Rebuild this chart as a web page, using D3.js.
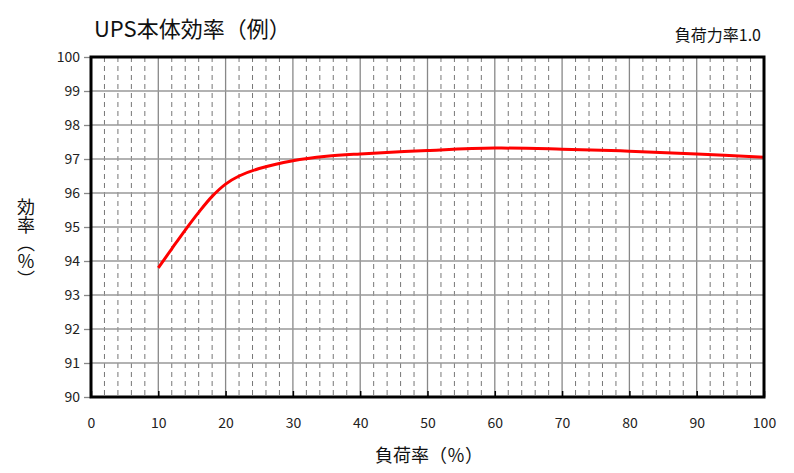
<!DOCTYPE html>
<html><head><meta charset="utf-8">
<script src="https://cdn.jsdelivr.net/npm/d3@7"></script>
<style>body{margin:0;background:#fff}svg{display:block}text{font-family:"Noto Sans CJK JP","Noto Sans",sans-serif}</style>
</head><body>
<svg id="c" width="794" height="473"></svg>
<script>
const loadPct = [10, 12, 14, 16, 18, 20, 22, 25, 30, 35, 40, 50, 60, 70, 80, 90, 100];
const efficiency = [93.8, 94.36, 94.91, 95.43, 95.9, 96.26, 96.5, 96.72, 96.95, 97.08, 97.15, 97.25, 97.32, 97.29, 97.23, 97.15, 97.05];
const xTicks = [0, 10, 20, 30, 40, 50, 60, 70, 80, 90, 100];
const yTicks = [90, 91, 92, 93, 94, 95, 96, 97, 98, 99, 100];

const svg = d3.select("#c");
const L = 91, R = 764, T = 57, B = 397;
const x = d3.scaleLinear().domain([0, 100]).range([L, R]);
const y = d3.scaleLinear().domain([90, 100]).range([B, T]);

// minor dashed verticals
const minor = d3.range(2, 100, 2).filter(v => v % 10 !== 0);
svg.append("g").selectAll("line").data(minor).join("line")
  .attr("x1", d => x(d)).attr("x2", d => x(d)).attr("y1", T).attr("y2", B)
  .attr("stroke", "#777").attr("stroke-width", 1).attr("stroke-dasharray", "5,4");
// major verticals
svg.append("g").selectAll("line").data(xTicks.slice(1, -1)).join("line")
  .attr("x1", d => x(d)).attr("x2", d => x(d)).attr("y1", T).attr("y2", B)
  .attr("stroke", "#888").attr("stroke-width", 1.3);
// horizontals
svg.append("g").selectAll("line").data(yTicks.slice(1, -1)).join("line")
  .attr("x1", L).attr("x2", R).attr("y1", d => y(d)).attr("y2", d => y(d))
  .attr("stroke", "#999").attr("stroke-width", 1.3);

// y axis ticks & labels
const yAxis = d3.axisLeft(y).tickValues(yTicks).tickSize(7).tickPadding(4).tickFormat(d3.format("d"));
const gy = svg.append("g").attr("transform", `translate(${L},0)`).call(yAxis);
gy.select(".domain").remove();
gy.selectAll(".tick line").attr("stroke", "#888").attr("stroke-width", 1.3);
gy.selectAll("text").attr("font-size", 14).attr("fill", "#222").attr("font-family", '"Noto Sans CJK JP",sans-serif');

// x axis labels (inside ticks)
const xAxis = d3.axisBottom(x).tickValues(xTicks).tickSize(-6).tickPadding(21).tickFormat(d3.format("d"));
const gx = svg.append("g").attr("transform", `translate(0,${B})`).call(xAxis);
gx.select(".domain").remove();
gx.selectAll(".tick line").attr("stroke", "#000").attr("stroke-width", 1.5);
gx.selectAll("text").attr("font-size", 14).attr("fill", "#222").attr("font-family", '"Noto Sans CJK JP",sans-serif');

// curve
const line = d3.line().x((d, i) => x(loadPct[i])).y(d => y(d)).curve(d3.curveCatmullRom.alpha(0.5));
svg.append("path").datum(efficiency).attr("d", line)
  .attr("fill", "none").attr("stroke", "#ff0000").attr("stroke-width", 3);

// frame
svg.append("rect").attr("x", L).attr("y", T).attr("width", R - L).attr("height", B - T)
  .attr("fill", "none").attr("stroke", "#000").attr("stroke-width", 3);

// titles
svg.append("text").attr("x", 94).attr("y", 37).attr("font-size", 22).attr("fill", "#111").text("UPS本体効率（例）");
svg.append("text").attr("x", 761).attr("y", 41).attr("text-anchor", "end").attr("font-size", 16).attr("fill", "#111").text("負荷力率1.0");
svg.append("text").attr("x", 429).attr("y", 462).attr("text-anchor", "middle").attr("font-size", 18).attr("fill", "#111").text("負荷率（％）");

svg.append("text").attr("x", 26).attr("y", 198)
  .attr("writing-mode", "vertical-rl").style("writing-mode", "vertical-rl")
  .attr("font-size", 18).attr("fill", "#111").text("効率（％）");
</script>
</body></html>
